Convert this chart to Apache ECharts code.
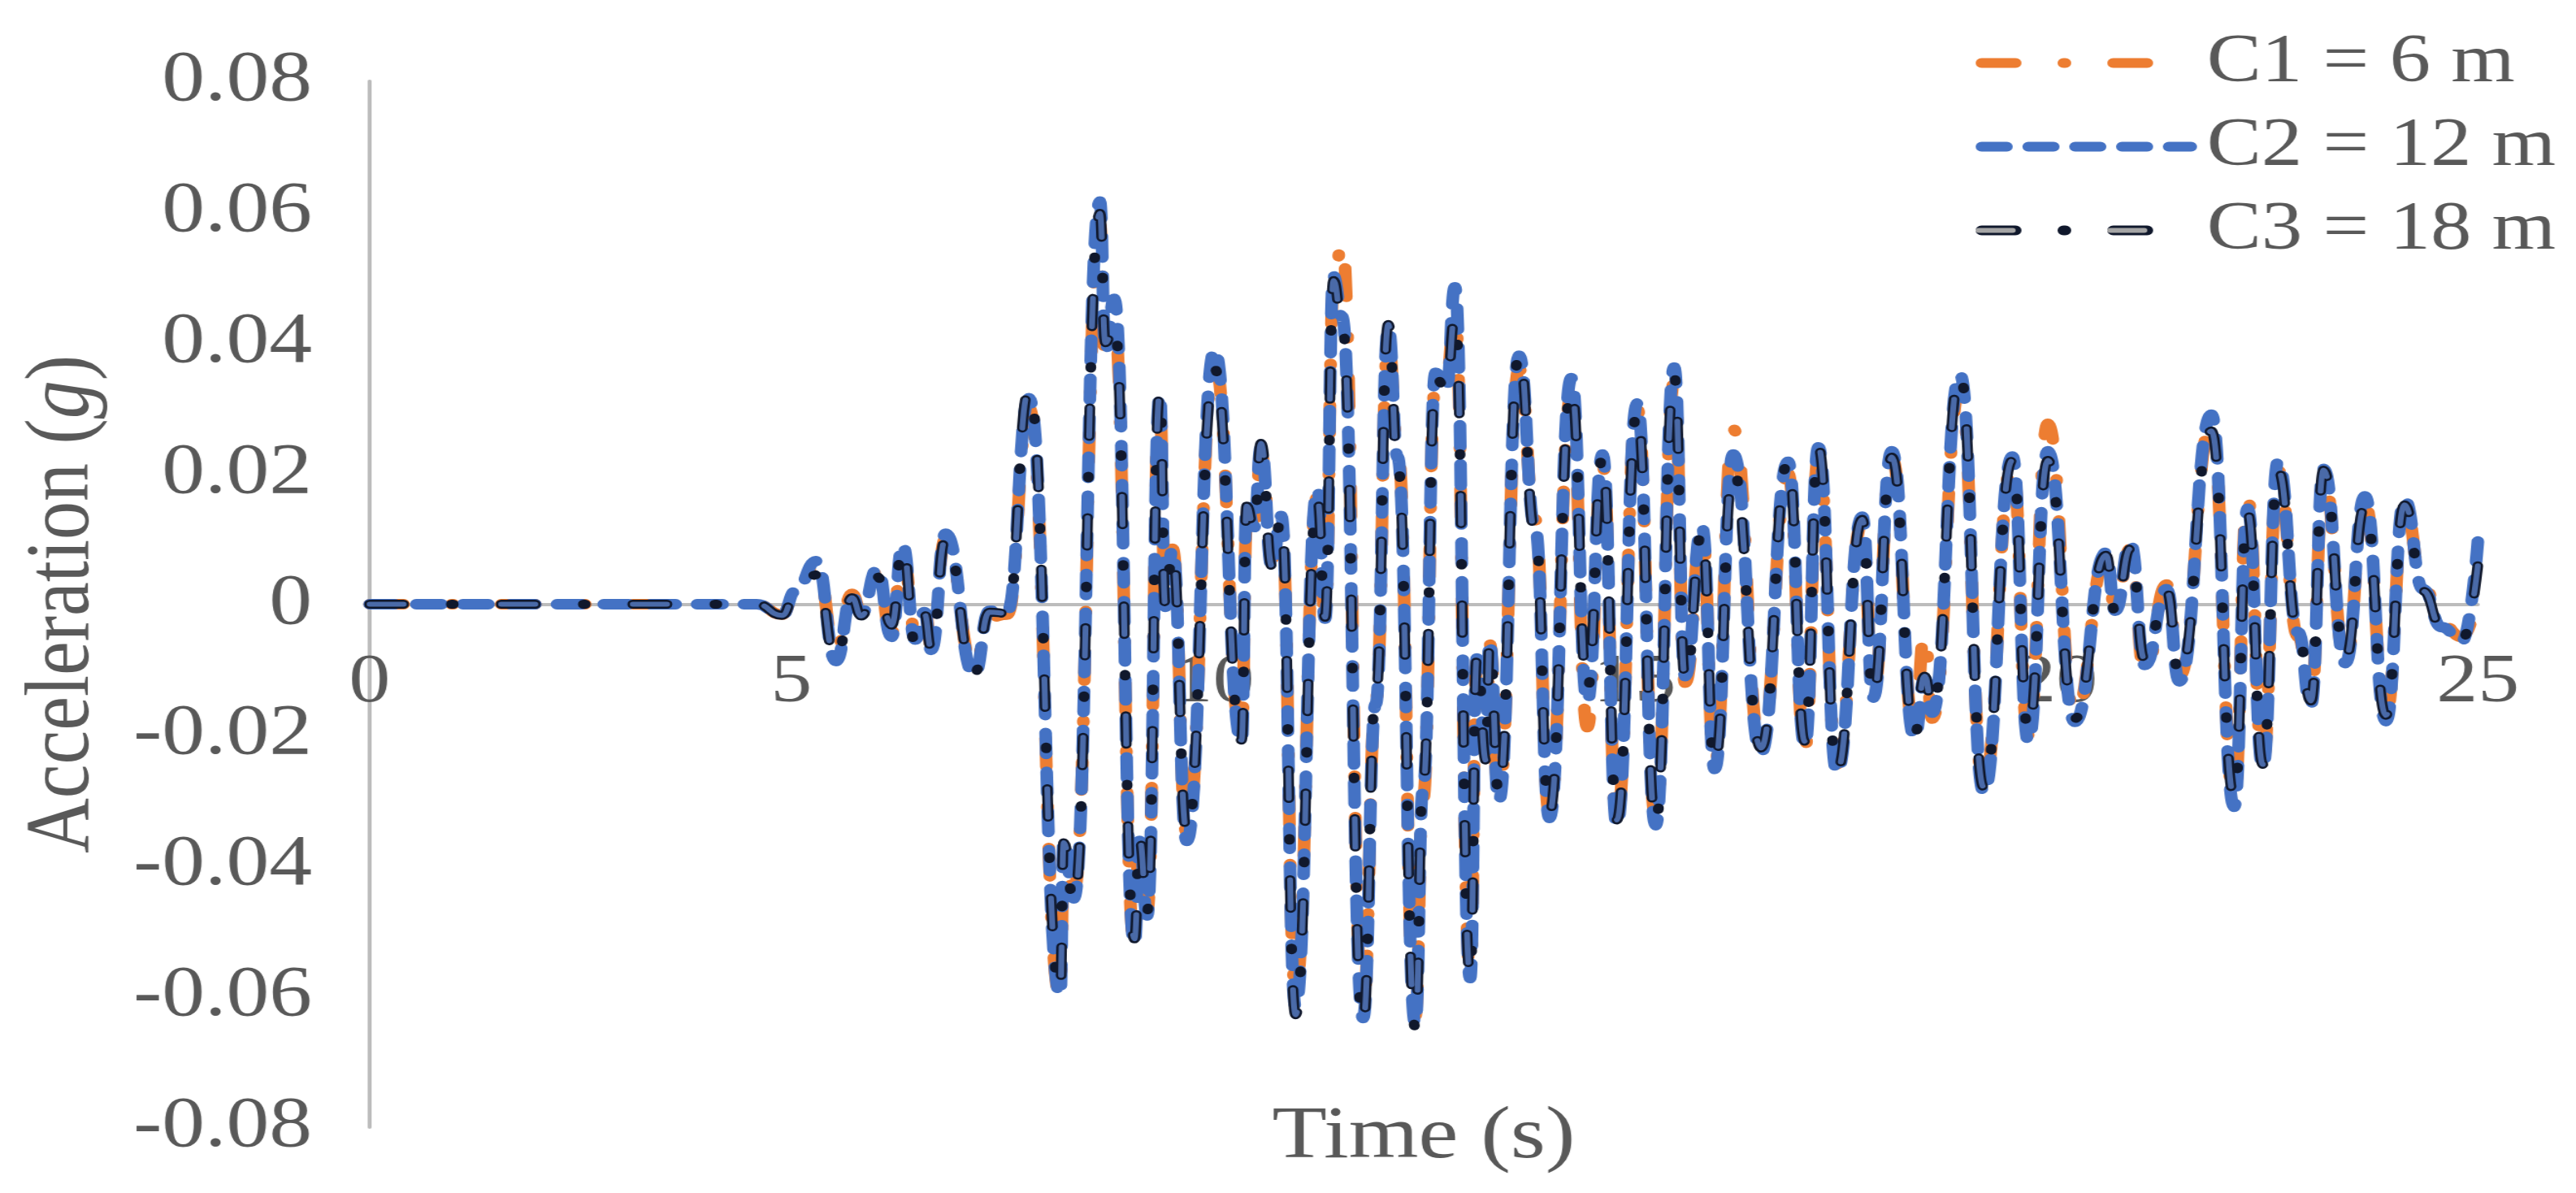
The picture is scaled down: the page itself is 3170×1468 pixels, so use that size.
<!DOCTYPE html>
<html><head><meta charset="utf-8">
<script src="https://cdn.jsdelivr.net/npm/echarts@6/dist/echarts.min.js"></script>
<style>html,body{margin:0;padding:0;background:#fff;overflow:hidden}
#c{width:2642px;height:1468px;transform:scale(1.2,1);transform-origin:0 0}</style>
</head><body><div id="c"></div>
<script>
const time = [0,2,4,4.59,4.89,5.05,5.30,5.53,5.72,5.83,6.02,6.19,6.32,6.47,6.58,6.66,6.83,7.17,7.35,7.56,7.82,8.19,8.23,8.35,8.66,8.725,8.83,9.07,9.13,9.22,9.37,9.435,9.52,9.69,10.02,10.34,10.40,10.49,10.57,10.70,10.81,10.98,11.24,11.33,11.43,11.53,11.78,11.93,12.08,12.19,12.40,12.49,12.64,12.77,12.87,13.05,13.13,13.24,13.28,13.39,13.63,13.82,13.99,14.25,14.44,14.62,14.79,15.03,15.25,15.47,15.60,15.80,15.95,16.17,16.50,16.82,17.02,17.18,17.40,17.70,17.83,18.05,18.32,18.44,18.53,18.86,19.14,19.48,19.67,19.90,20.22,20.59,20.70,20.88,21.05,21.31,21.46,21.84,22.11,22.27,22.45,22.63,22.87,23.02,23.17,23.43,23.66,23.91,24.13,24.35,24.57,24.81,25];
const c1 = [0,0,0,0,-.0016,.0018,.0060,-.0072,.0016,-.0012,.0050,-.0044,.0078,-.0040,-.0006,-.0062,.0100,-.0098,-.0020,-.0016,.0300,-.0602,-.0380,-.0440,.0580,.0375,.0430,-.0520,-.0350,-.0470,.0310,.0006,.0085,-.0350,.0370,-.0200,.0120,.0100,.0230,.0070,.0125,-.0590,.0165,-.0015,.0480,.0554,-.0620,-.0150,.0400,.0240,-.0630,-.0300,.0340,.0350,.0440,-.0560,-.0085,-.0220,-.0060,-.0290,.0360,.0130,-.0320,.0320,-.0188,.0215,-.0330,.0300,-.0325,.0340,-.0120,.0110,-.0245,.0268,-.0220,.0200,-.0220,.0225,-.0245,.0125,-.0135,.0225,-.0195,-.0043,-.0175,.0330,-.0275,.0215,-.0200,.0276,-.0170,.0070,-.0005,.0085,-.0105,.0030,-.0110,.0275,-.0295,.0162,-.0240,.0205,-.0050,-.0145,.0195,-.0085,.0155,-.0170,.0150,.0030,-.0030,-.0050,.0015];
const c2 = [0,0,0,0,-.0017,.0020,.0066,-.0087,.0012,-.0015,.0054,-.0050,.0091,-.0054,-.0012,-.0070,.0108,-.0108,-.0010,-.0012,.0315,-.0598,-.0362,-.0450,.0616,.0389,.0467,-.0520,-.0362,-.0476,.0320,-.0004,.0083,-.0362,.0389,-.0210,.0153,.0118,.0240,.0057,.0135,-.0616,.0175,-.0022,.0502,.0440,-.0633,-.0153,.0423,.0225,-.0642,-.0285,.0354,.0330,.0485,-.0572,-.0083,-.0231,-.0057,-.0301,.0380,.0118,-.0327,.0346,-.0149,.0229,-.0338,.0307,-.0338,.0362,-.0110,.0118,-.0252,.0229,-.0227,.0218,-.0216,.0240,-.0257,.0134,-.0143,.0234,-.0204,-.0113,-.0166,.0351,-.0288,.0226,-.0210,.0234,-.0180,.0079,-.0010,.0093,-.0093,.0023,-.0118,.0290,-.0310,.0146,-.0249,.0218,-.0043,-.0154,.0207,-.0090,.0165,-.0179,.0160,.0023,-.0035,-.0057,.0096];
const c3 = [0,0,0,0,-.0017,.0016,.0045,-.0085,.0010,-.0018,.0042,-.0032,.0088,-.0060,-.0015,-.0068,.0100,-.0106,-.0012,-.0014,.0328,-.0592,-.0365,-.0455,.0598,.0400,.0430,-.0512,-.0360,-.0470,.0325,-.0002,.0080,-.0350,.0360,-.0208,.0150,.0115,.0246,.0058,.0130,-.0628,.0160,-.0020,.0495,.0430,-.0640,-.0140,.0428,.0215,-.0648,-.0280,.0345,.0330,.0440,-.0570,-.0080,-.0240,-.0060,-.0290,.0382,.0110,-.0320,.0330,-.0130,.0225,-.0330,.0295,-.0335,.0350,-.0115,.0110,-.0245,.0205,-.0220,.0218,-.0210,.0240,-.0255,.0130,-.0140,.0225,-.0200,-.0110,-.0160,.0352,-.0280,.0220,-.0195,.0220,-.0175,.0075,-.0012,.0085,-.0085,.0020,-.0110,.0265,-.0295,.0140,-.0245,.0205,-.0045,-.0148,.0205,-.0082,.0150,-.0170,.0152,.0020,-.0035,-.0055,.0060];
const names = ['C1 = 6 m','C2 = 12 m','C3 = 18 m'];
const coreName = 'C3 core';
const xTicks = [0,5,10,15,20,25];

const zip = v => time.map((t,i)=>[t,v[i]]);
const base = {type:'line',smooth:0.5,smoothMonotone:'x',showSymbol:false,symbol:'none',silent:true,animation:false};
const line = (c,w,d) => ({color:c,width:w,type:d,cap:'round'});
const C3dash=[35,49,2,49];
const noDot = {color:'rgba(0,0,0,0)',borderWidth:0,opacity:0};
const legendCommon = {orient:'vertical',left:2021,itemWidth:215,itemHeight:12,itemGap:18,selectedMode:false,icon:'inherit',
  itemStyle:noDot,
  lineStyle:{width:12,cap:'round'},
  textStyle:{fontFamily:'Liberation Serif',fontSize:84,color:'#595959',lineHeight:85,padding:[0,0,0,11]}};
const serif = {fontFamily:'Liberation Serif',color:'#595959'};
const axLine = {show:true,onZero:false,lineStyle:{color:'#bcbcbc',width:4}};

const chart = echarts.init(document.getElementById('c'),null,{width:2642,height:1468});
chart.setOption({
  backgroundColor:'#fff',animation:false,
  grid:{left:379,top:100,width:2162,height:1287,containLabel:false,outerBoundsMode:'none'},
  legend:[
    Object.assign({},legendCommon,{top:30,data:names}),
    Object.assign({},legendCommon,{top:236,z:20,lineStyle:{width:6,cap:'round',color:'#a5a5a5'},data:[coreName],textStyle:Object.assign({},legendCommon.textStyle,{color:'rgba(0,0,0,0)'}),formatter:()=>names[2]})
  ],
  xAxis:{type:'value',min:0,max:25,interval:5,offset:-643.5,name:'Time (s)',nameLocation:'middle',nameGap:610,
    nameTextStyle:Object.assign({},serif,{fontSize:92}),
    axisLine:axLine,axisTick:{show:false},splitLine:{show:false},
    axisLabel:Object.assign({},serif,{fontSize:85,margin:55,hideOverlap:false,customValues:xTicks})},
  yAxis:{type:'value',min:-0.08,max:0.08,interval:0.02,name:'{r|Acceleration (}{i|g}{r|)}',nameLocation:'middle',nameGap:267,nameRotate:90,
    nameTextStyle:{rich:{r:Object.assign({},serif,{fontSize:94}),i:Object.assign({},serif,{fontSize:94,fontStyle:'italic'})}},
    axisLine:axLine,axisTick:{show:false},splitLine:{show:false},
    axisLabel:Object.assign({},serif,{fontSize:88,margin:59,formatter:v=>String(+v.toFixed(2))})},
  series:[
    Object.assign({},base,{name:names[0],data:zip(c1),itemStyle:{color:'#ED7D31'},lineStyle:line('#ED7D31',13,C3dash)}),
    Object.assign({},base,{name:names[1],data:zip(c2),itemStyle:{color:'#4472C4'},lineStyle:line('#4472C4',13,[26,22])}),
    Object.assign({},base,{name:names[2],data:zip(c3),itemStyle:{color:'#000'},lineStyle:line('#10182c',11,C3dash)}),
    Object.assign({},base,{name:coreName,data:zip(c3),itemStyle:{color:'#a5a5a5'},lineStyle:line('#4a6aa8',6,[35,100])})
  ]
});
</script></body></html>
